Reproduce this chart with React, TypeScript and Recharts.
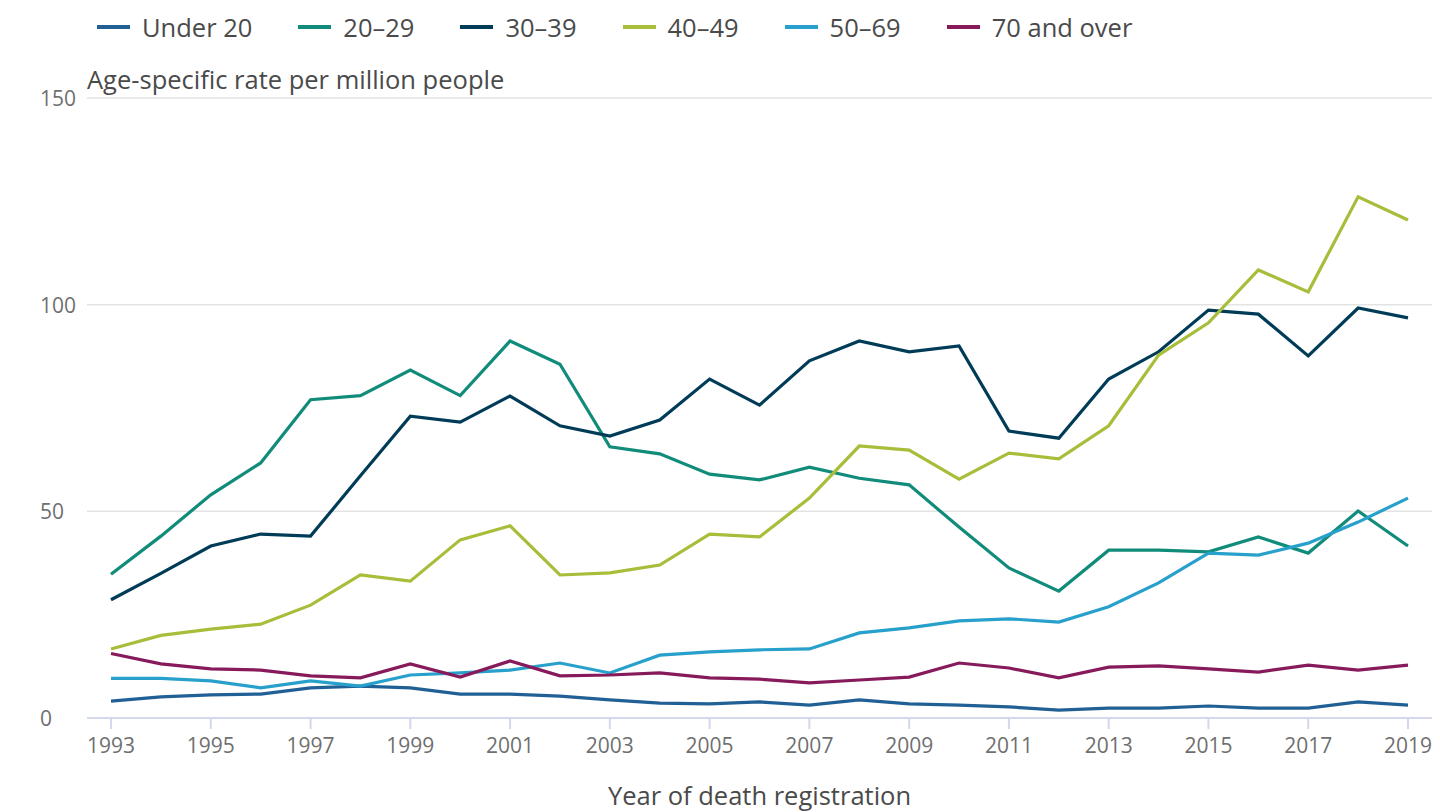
import React from 'react';
import { LineChart, Line, XAxis, YAxis, CartesianGrid, Legend } from 'recharts';

const years = [1993,1994,1995,1996,1997,1998,1999,2000,2001,2002,2003,2004,2005,2006,2007,2008,2009,2010,2011,2012,2013,2014,2015,2016,2017,2018,2019];

const under20 = [4.1,5.1,5.6,5.8,7.3,7.7,7.3,5.8,5.8,5.3,4.4,3.6,3.4,3.9,3.1,4.4,3.4,3.1,2.7,1.9,2.4,2.4,2.9,2.4,2.4,3.9,3.1];
const age20to29 = [34.8,44,54,61.7,77,78,84.2,78,91.2,85.6,65.6,63.9,59,57.6,60.7,58,56.4,46.2,36.3,30.7,40.6,40.6,40.2,43.8,39.9,50.1,41.6];
const age30to39 = [28.6,35,41.6,44.5,44,58.6,73,71.6,77.9,70.7,68.2,72.1,82,75.7,86.4,91.2,88.6,90,69.4,67.7,82,88.6,98.7,97.7,87.6,99.2,96.8];
const age40to49 = [16.7,20,21.5,22.7,27.3,34.6,33.1,43.1,46.5,34.6,35.1,37,44.5,43.8,53.2,65.8,64.8,57.8,64.1,62.7,70.7,87.8,95.6,108.4,103.1,126.1,120.5];
const age50to69 = [9.6,9.6,9,7.3,9,7.7,10.4,10.9,11.6,13.3,10.9,15.2,16,16.5,16.7,20.6,21.8,23.5,24,23.2,26.9,32.7,39.9,39.4,42.3,47.4,53.2];
const age70plus = [15.6,13.1,11.9,11.6,10.2,9.7,13.1,9.9,13.8,10.2,10.4,10.9,9.7,9.4,8.5,9.2,9.9,13.3,12.1,9.7,12.3,12.6,11.9,11.1,12.8,11.6,12.8];

const seriesNames = ['Under 20', '20–29', '30–39', '40–49', '50–69', '70 and over'];
const seriesKeys = ['u20', 'a20', 'a30', 'a40', 'a50', 'a70'];
const seriesColors = ['#206095', '#118c7b', '#003c57', '#a8bd3a', '#27a0cc', '#871a5b'];
const seriesValues = [under20, age20to29, age30to39, age40to49, age50to69, age70plus];

const xTicks = [1993,1995,1997,1999,2001,2003,2005,2007,2009,2011,2013,2015,2017,2019];
const yTicks = [0, 50, 100, 150];

const data = years.map((year, i) => {
  const row: Record<string, number> = { year };
  seriesKeys.forEach((k, j) => { row[k] = seriesValues[j][i]; });
  return row;
});

const FONT = '"Open Sans", "Noto Sans", sans-serif';
const TEXT = '#4a4a4a';
const TICK = '#6f6f6f';

const LegendContent = () => (
  <div style={{ height: 0, overflow: 'visible', position: 'relative' }}>
    <div style={{ display: 'flex', alignItems: 'center', fontFamily: FONT, fontSize: 25.5, color: TEXT, whiteSpace: 'nowrap' }}>
      {seriesNames.map((n, i) => (
        <div key={n} style={{ display: 'flex', alignItems: 'center', marginRight: 46 }}>
          <div style={{ width: 33, height: 4, background: seriesColors[i], marginRight: 12 }} />
          <span>{n}</span>
        </div>
      ))}
    </div>
  </div>
);

const YTick = (props: any) => {
  const { y, payload } = props;
  return (
    <text x={32} y={y + 8} textAnchor="start" fill={TICK} fontFamily={FONT} fontSize={21}>
      {payload.value}
    </text>
  );
};

const XTick = (props: any) => {
  const { x, y, payload } = props;
  return (
    <text x={x} y={y + 22} textAnchor="middle" fill={TICK} fontFamily={FONT} fontSize={21}>
      {payload.value}
    </text>
  );
};

const YLabel = (props: any) => {
  const vb = props.viewBox;
  return (
    <text x={vb.x + vb.width} y={vb.y - 9} textAnchor="start" fill={TEXT} fontFamily={FONT} fontSize={25.5}>
      Age-specific rate per million people
    </text>
  );
};

const XLabel = (props: any) => {
  const vb = props.viewBox;
  return (
    <text x={vb.x + vb.width / 2} y={vb.y + vb.height - 7} textAnchor="middle" fill={TEXT} fontFamily={FONT} fontSize={25.5}>
      Year of death registration
    </text>
  );
};

export default function App() {
  return (
    <div style={{ width: 1432, height: 804, background: '#fff' }}>
      <LineChart width={1432} height={804} data={data} margin={{ top: 90, right: 8, bottom: 0, left: 0 }}>
        <CartesianGrid horizontal vertical={false} stroke="#e3e3e3" strokeWidth={1.5} />
        <XAxis
          dataKey="year"
          type="number"
          domain={[1993, 2019]}
          ticks={xTicks}
          padding={{ left: 24, right: 24 }}
          height={94}
          stroke="#d3d8ec"
          strokeWidth={2}
          tickSize={11}
          tickLine={{ stroke: '#d3d8ec', strokeWidth: 2 }}
          tick={<XTick />}
          interval={0}
          label={{ content: <XLabel /> }}
        />
        <YAxis
          domain={[0, 150]}
          ticks={yTicks}
          width={79}
          axisLine={false}
          tickLine={false}
          tick={<YTick />}
          interval={0}
          label={{ content: <YLabel /> }}
        />
        <Legend verticalAlign="top" align="left" content={<LegendContent />} wrapperStyle={{ top: 2, left: 89, width: 1300 }} />
        {seriesKeys.map((k, i) => (
          <Line
            key={k}
            type="linear"
            dataKey={k}
            name={seriesNames[i]}
            stroke={seriesColors[i]}
            strokeWidth={3.2}
            dot={false}
            activeDot={false}
            isAnimationActive={false}
          />
        ))}
      </LineChart>
    </div>
  );
}
